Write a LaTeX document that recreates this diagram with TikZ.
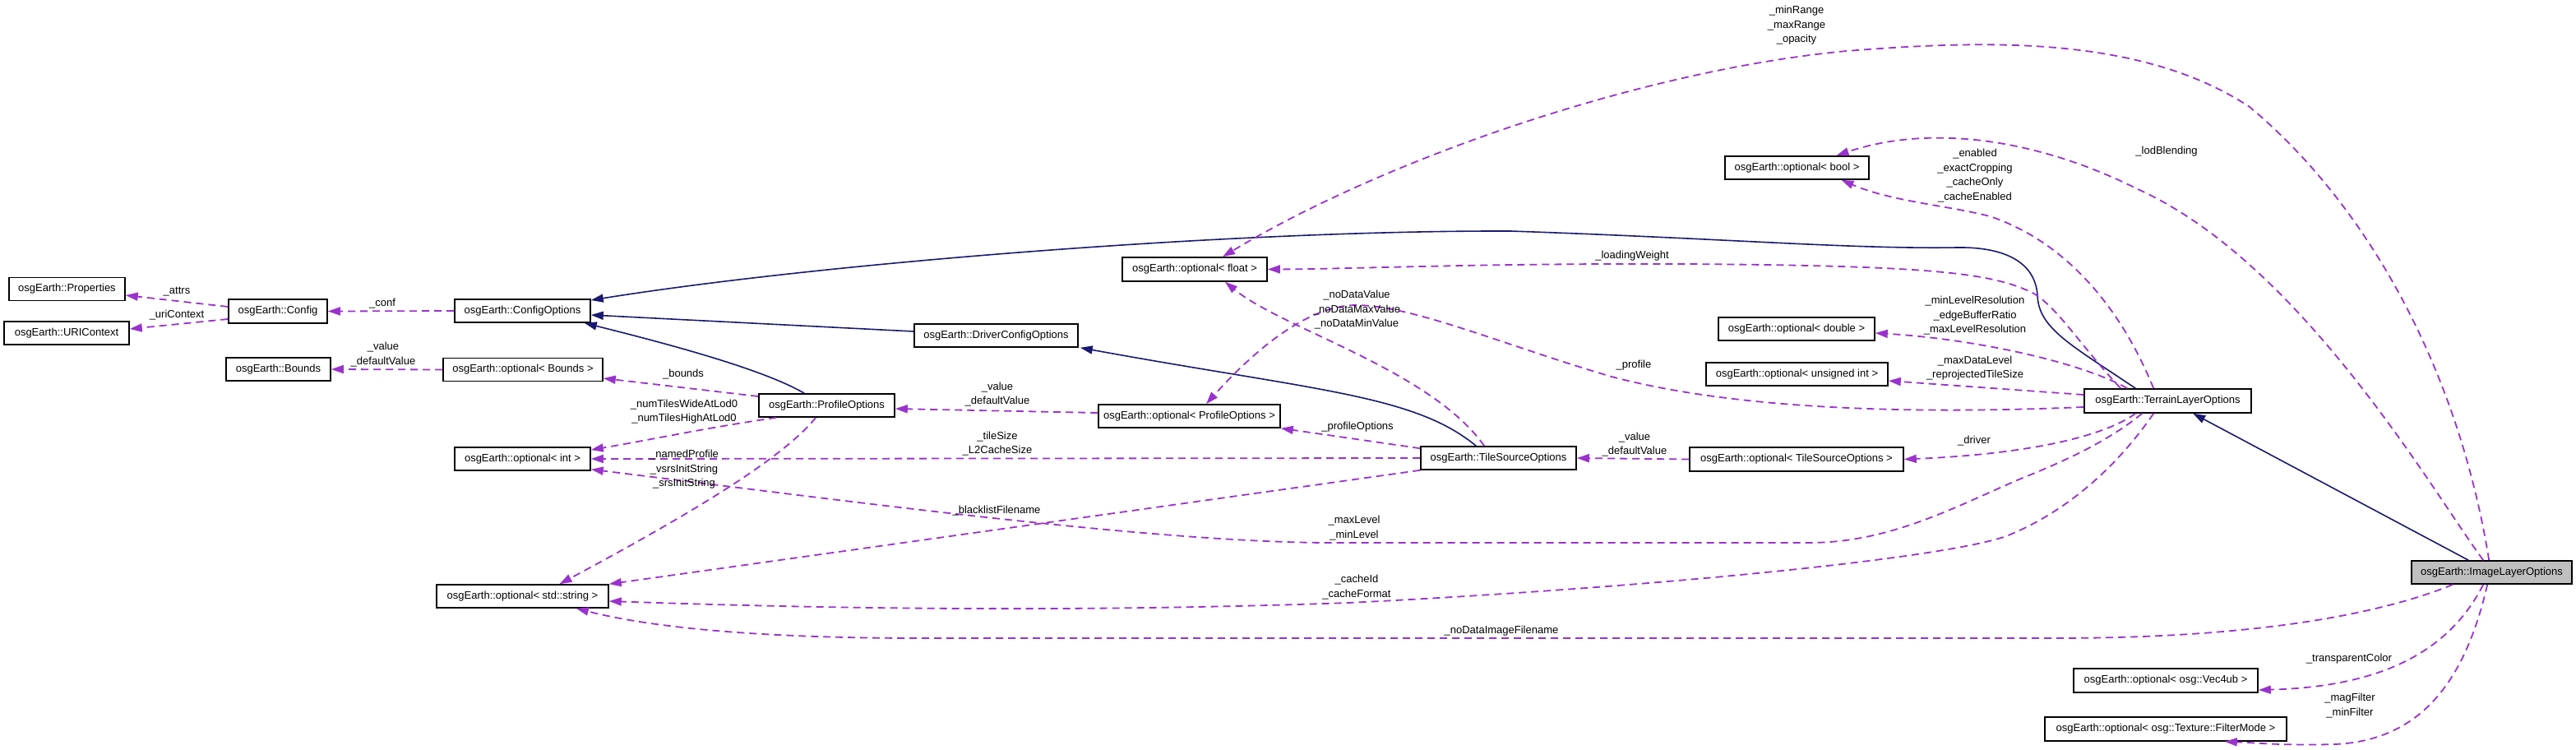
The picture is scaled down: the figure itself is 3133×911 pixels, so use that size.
\documentclass[tikz,border=0pt]{standalone}
\usepackage{fontspec}
\setmainfont{Liberation Sans}
\usetikzlibrary{arrows.meta,calc}
\definecolor{depc}{HTML}{9A32CD}
\definecolor{inhc}{HTML}{191970}
\definecolor{focusc}{HTML}{BFBFBF}
\begin{document}
\begin{tikzpicture}[x=1pt,y=-1pt,
  cls/.style={draw=black,line width=1.6pt,fill=white,inner sep=0pt,minimum height=28pt,font=\fontsize{13}{16}\selectfont,anchor=center},
  lbl/.style={inner sep=0pt,align=center,font=\fontsize{13}{17.5}\selectfont},
  use/.style={draw=depc,line width=1.8pt,dash pattern=on 9pt off 6pt,-{Triangle[length=15pt,width=10pt,fill=depc]}},
  isa/.style={draw=inhc,line width=1.6pt,-{Triangle[length=15pt,width=10pt,fill=inhc]}},
]
\fill[white] (0,0) rectangle (3133,911);
\useasboundingbox (0,0) rectangle (3133,911);

% nodes
\node[cls,minimum width=141pt] (prop) at (81.5,351.5) {osgEarth::Properties};
\node[cls,minimum width=152pt] (uric) at (81,405) {osgEarth::URIContext};
\node[cls,minimum width=120pt,minimum height=29pt] (conf) at (338,378.5) {osgEarth::Config};
\node[cls,minimum width=127pt] (bounds) at (338.5,449) {osgEarth::Bounds};
\node[cls,minimum width=165pt] (cfgopt) at (635.5,378) {osgEarth::ConfigOptions};
\node[cls,minimum width=194pt] (optb) at (636,449.5) {osgEarth::optional\textless{} Bounds \textgreater};
\node[cls,minimum width=165pt] (profopt) at (1005.5,493) {osgEarth::ProfileOptions};
\node[cls,minimum width=165pt] (opti) at (635.5,558) {osgEarth::optional\textless{} int \textgreater};
\node[cls,minimum width=209pt] (opts) at (635.5,725) {osgEarth::optional\textless{} std::string \textgreater};
\node[cls,minimum width=199pt] (drvopt) at (1211.5,408) {osgEarth::DriverConfigOptions};
\node[cls,minimum width=176pt,minimum height=29pt] (optf) at (1453,327.5) {osgEarth::optional\textless{} float \textgreater};
\node[cls,minimum width=221pt] (optpo) at (1446.5,506) {osgEarth::optional\textless{} ProfileOptions \textgreater};
\node[cls,minimum width=189pt] (tso) at (1822.5,557) {osgEarth::TileSourceOptions};
\node[cls,minimum width=260pt,minimum height=29pt] (opttso) at (2185,558.5) {osgEarth::optional\textless{} TileSourceOptions \textgreater};
\node[cls,minimum width=175pt] (optbool) at (2185.5,204) {osgEarth::optional\textless{} bool \textgreater};
\node[cls,minimum width=190pt] (optd) at (2185,400) {osgEarth::optional\textless{} double \textgreater};
\node[cls,minimum width=221pt] (optu) at (2185.5,455) {osgEarth::optional\textless{} unsigned int \textgreater};
\node[cls,minimum width=203pt,minimum height=29pt] (tlo) at (2636.5,487.5) {osgEarth::TerrainLayerOptions};
\node[cls,minimum width=195pt,fill=focusc] (ilo) at (3030.5,696) {osgEarth::ImageLayerOptions};
\node[cls,minimum width=224pt,minimum height=29pt] (vec) at (2634,827.5) {osgEarth::optional\textless{} osg::Vec4ub \textgreater};
\node[cls,minimum width=294pt,minimum height=29pt] (filt) at (2634,886.5) {osgEarth::optional\textless{} osg::Texture::FilterMode \textgreater};

% inheritance
\draw[isa] ($(drvopt.west)+(0,-5)$) -- ($(cfgopt.east)+(0,5)$);
\draw[isa] ($(profopt.north west)+(56,0)$) .. controls (930,450) and (820,420) .. ($(cfgopt.south east)+(-8,0)$);
\draw[isa] ($(tlo.north west)+(63,0)$) .. controls (2520,420) and (2480,400) .. (2478,360)
  .. controls (2476,320) and (2440,300) .. (2380,301)
  .. controls (2250,303) and (2100,290) .. (1837,281)
  .. controls (1500,280) and (1000,320) .. ($(cfgopt.east)+(0,-13)$);
\draw[isa] ($(tso.north west)+(68,0)$) .. controls (1720,480) and (1600,475) .. ($(drvopt.south east)+(2,0)$);
\draw[isa] ($(ilo.north west)+(70,0)$) -- ($(tlo.south west)+(133,0)$);

% usage
\draw[use] ($(conf.west)+(0,-5.5)$) -- ($(prop.east)+(0,7.5)$);
\draw[use] ($(conf.west)+(0,9.5)$) -- ($(uric.east)+(0,-5)$);
\draw[use] (cfgopt.west) -- (conf.east);
\draw[use] (optb.west) -- (bounds.east);
\draw[use] ($(profopt.west)+(0,-11)$) -- ($(optb.east)+(0,10.5)$);
\draw[use] ($(profopt.south west)+(22,0)$) .. controls (860,520) and (790,535) .. ($(opti.east)+(0,-11)$);
\draw[use] (tso.west) -- (opti.east);
\draw[use] ($(profopt.south west)+(70,0)$) .. controls (950,560) and (830,630) .. ($(opts.north)+(45,0)$);
\draw[use] ($(tlo.south west)+(71,0)$) .. controls (2560,540) and (2500,565) .. (2458,582)
  .. controls (2380,615) and (2300,660) .. (2200,660) -- (1620,660)
  .. controls (1400,660) and (1000,605) .. ($(opti.south east)+(0,-2)$);
\draw[use] (tso.south west) -- (opts.north east);
\draw[use] ($(tlo.south west)+(85,0)$) .. controls (2580,560) and (2520,620) .. (2440,652)
  .. controls (2360,680) and (2000,715) .. (1640,733)
  .. controls (1300,745) and (1000,740) .. ($(opts.east)+(0,6)$);
\draw[use] ($(ilo.south west)+(51,0)$) .. controls (2900,745) and (2750,776) .. (2500,776) -- (1120,776)
  .. controls (900,776) and (780,760) .. ($(opts.south east)+(-40,0)$);
\draw[use] ($(tso.north west)+(78,0)$) .. controls (1740,450) and (1560,400) .. ($(optf.south)+(37,0)$);
\draw[use] ($(tlo.west)+(0,7.5)$) .. controls (2300,505) and (2100,495) .. (1960,458)
  .. controls (1830,420) and (1720,372) .. (1650,371)
  .. controls (1600,371) and (1540,410) .. ($(optpo.north)+(20.5,0)$);
\draw[use] ($(tso.north west)+(0,3)$) -- (optpo.south east);
\draw[use] ($(optpo.west)+(0,-4)$) -- ($(profopt.east)+(0,4)$);
\draw[use] (opttso.west) -- (tso.east);
\draw[use] ($(tlo.south west)+(63,0)$) .. controls (2560,530) and (2470,552) .. (opttso.east);
\draw[use] ($(tlo.north west)+(45,0)$) .. controls (2530,420) and (2500,370) .. (2470,355)
  .. controls (2420,332) and (2350,323) .. (2050,321)
  .. controls (1800,320) and (1650,327) .. (optf.east);
\draw[use] ($(tlo.north west)+(53,0)$) .. controls (2530,440) and (2400,412) .. ($(optd.east)+(0,5)$);
\draw[use] ($(tlo.west)+(0,-7.5)$) -- ($(optu.east)+(0,8)$);
\draw[use] ($(tlo.north west)+(85,0)$) .. controls (2590,400) and (2530,300) .. (2420,263)
  .. controls (2370,250) and (2300,245) .. ($(optbool.south)+(54,0)$);
\draw[use] ($(ilo.north west)+(88,0)$) .. controls (2960,600) and (2800,320) .. (2600,230)
  .. controls (2480,170) and (2350,150) .. ($(optbool.north)+(48,0)$);
\draw[use] ($(ilo.north west)+(95,0)$) .. controls (2990,450) and (2880,250) .. (2736,130)
  .. controls (2600,40) and (2400,50) .. (2246,62)
  .. controls (2000,85) and (1687,192) .. ($(optf.north)+(34,0)$);
\draw[use] ($(ilo.south west)+(88,0)$) .. controls (2980,790) and (2900,835) .. ($(vec.east)+(0,11.5)$);
\draw[use] ($(ilo.south west)+(93,0)$) .. controls (3000,820) and (2950,900) .. (2840,905)
  .. controls (2780,907) and (2740,903) .. ($(filt.south east)+(-76,0)$);

% labels
\node[lbl] (l1) at (215,355) {\_attrs};
\node[lbl] (l2) at (215,383) {\_uriContext};
\node[lbl] (l3) at (465,369) {\_conf};
\node[lbl] (l4) at (466,431) {\_value\\\_defaultValue};
\node[lbl] (l5) at (831,455) {\_bounds};
\node[lbl] (l6) at (832,500.5) {\_numTilesWideAtLod0\\\_numTilesHighAtLod0};
\node[lbl] (l7) at (832,571) {\_namedProfile\\\_vsrsInitString\\\_srsInitString};
\node[lbl] (l8) at (1213,479.5) {\_value\\\_defaultValue};
\node[lbl] (l9) at (1213,539.5) {\_tileSize\\\_L2CacheSize};
\node[lbl] (l10) at (1650,377) {\_noDataValue\\\_noDataMaxValue\\\_noDataMinValue};
\node[lbl] (l11) at (1651,519) {\_profileOptions};
\node[lbl] (l12) at (1987,444) {\_profile};
\node[lbl] (l13) at (1988,540.5) {\_value\\\_defaultValue};
\node[lbl] (l14) at (2401,536) {\_driver};
\node[lbl] (l15) at (1985,311) {\_loadingWeight};
\node[lbl] (l16) at (2402,213.5) {\_enabled\\\_exactCropping\\\_cacheOnly\\\_cacheEnabled};
\node[lbl] (l17) at (2635,184) {\_lodBlending};
\node[lbl] (l18) at (2185,31) {\_minRange\\\_maxRange\\\_opacity};
\node[lbl] (l19) at (2402,384) {\_minLevelResolution\\\_edgeBufferRatio\\\_maxLevelResolution};
\node[lbl] (l20) at (2402,447.5) {\_maxDataLevel\\\_reprojectedTileSize};
\node[lbl] (l21) at (1212,621) {\_blacklistFilename};
\node[lbl] (l22) at (1647,642) {\_maxLevel\\\_minLevel};
\node[lbl] (l23) at (1650,714) {\_cacheId\\\_cacheFormat};
\node[lbl] (l24) at (1826,767) {\_noDataImageFilename};
\node[lbl] (l25) at (2857,801) {\_transparentColor};
\node[lbl] (l26) at (2858,858) {\_magFilter\\\_minFilter};
\end{tikzpicture}
\end{document}
